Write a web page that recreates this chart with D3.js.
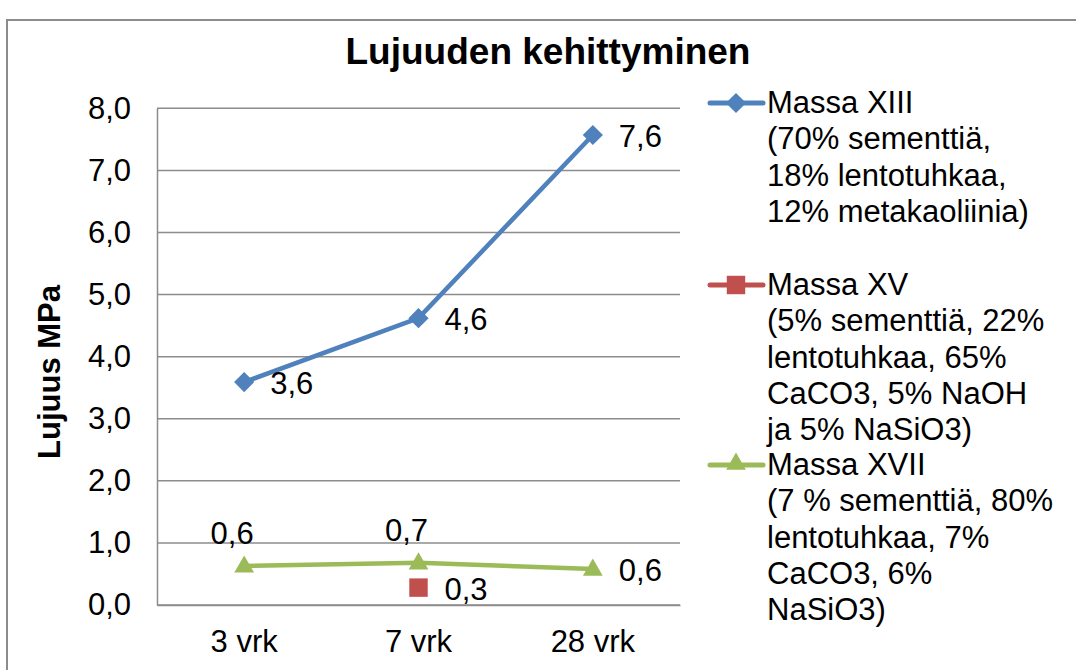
<!DOCTYPE html>
<html>
<head>
<meta charset="utf-8">
<script src="https://cdn.jsdelivr.net/npm/d3@7"></script>
<style>
  body { margin: 0; background: #fff; }
  svg { display: block; font-family: "Liberation Sans", Arial, sans-serif; }
</style>
</head>
<body>
<svg id="chart" width="1076" height="670"></svg>
<script>
// data
const categories = ["3 vrk", "7 vrk", "28 vrk"];
const massaXIII = [3.59, 4.62, 7.57];
const massaXV = [null, 0.28, null];
const massaXVII = [0.63, 0.68, 0.58];
const yTicks = [0, 1, 2, 3, 4, 5, 6, 7, 8];

const legendLines = [
    ["Massa XIII", "(70% sementtiä,", "18% lentotuhkaa,", "12% metakaoliinia)"],
    ["Massa XV", "(5% sementtiä, 22%", "lentotuhkaa, 65%", "CaCO3, 5% NaOH", "ja 5% NaSiO3)"],
    ["Massa XVII", "(7 % sementtiä, 80%", "lentotuhkaa, 7%", "CaCO3, 6%", "NaSiO3)"]
];

const series = [
    { values: massaXIII, color: "#4F81BD", symbol: "diamond", labelPos: ["right", "right", "right"] },
    { values: massaXV, color: "#C0504D", symbol: "square", labelPos: [null, "right", null] },
    { values: massaXVII, color: "#9BBB59", symbol: "triangle", labelPos: ["top", "top", "right"] }
];

const svg = d3.select("#chart");
const fontSize = 31;

// outer chart border
svg.append("rect")
    .attr("x", 7).attr("y", 20)
    .attr("width", 1200).attr("height", 800)
    .attr("fill", "none")
    .attr("stroke", "#8c8c8c")
    .attr("stroke-width", 2);

const x = d3.scaleBand().domain(categories).range([157, 680]);
const y = d3.scaleLinear().domain([0, 8]).range([605, 108.3]);
const cx = d => x(d) + x.bandwidth() / 2;

// title
svg.append("text")
    .attr("x", 548).attr("y", 64)
    .attr("text-anchor", "middle")
    .attr("font-size", 37)
    .attr("font-weight", "bold")
    .text("Lujuuden kehittyminen");

// gridlines
svg.append("g")
    .selectAll("line")
    .data(yTicks)
    .enter().append("line")
    .attr("x1", 157).attr("x2", 680)
    .attr("y1", d => y(d)).attr("y2", d => y(d))
    .attr("stroke", "#8c8c8c")
    .attr("stroke-width", 1.5);

// y axis
const yAxis = d3.axisLeft(y)
    .tickValues(yTicks)
    .tickSize(0)
    .tickPadding(26)
    .tickFormat(d => d3.format(".1f")(d).replace(".", ","));

const gy = svg.append("g")
    .attr("transform", "translate(157,0)")
    .call(yAxis);
gy.select(".domain").attr("stroke", "#8c8c8c").attr("stroke-width", 1.5);
gy.selectAll("text")
    .attr("font-size", fontSize)
    .attr("font-family", "Liberation Sans, Arial, sans-serif")
    .attr("fill", "#000");

// x axis
const xAxis = d3.axisBottom(x).tickSize(0).tickPadding(25);
const gx = svg.append("g")
    .attr("transform", "translate(0,605)")
    .call(xAxis);
gx.select(".domain").attr("stroke", "#8c8c8c").attr("stroke-width", 1.5);
gx.selectAll("text")
    .attr("font-size", fontSize)
    .attr("font-family", "Liberation Sans, Arial, sans-serif")
    .attr("fill", "#000");

// y axis title
svg.append("text")
    .attr("transform", "translate(60,372) rotate(-90)")
    .attr("text-anchor", "middle")
    .attr("font-size", 31)
    .attr("font-weight", "bold")
    .text("Lujuus MPa");

function symbolPath(name) {
    if (name === "diamond") return d3.symbol().type(d3.symbolDiamond2).size(260)();
    if (name === "square") return d3.symbol().type(d3.symbolSquare).size(340)();
    return d3.symbol().type(d3.symbolTriangle2).size(280)();
}

// lines, markers, labels
const fmt = v => d3.format(".1f")(v).replace(".", ",");

series.forEach(s => {
    const pts = categories.map((c, i) => ({ c: c, v: s.values[i], pos: s.labelPos[i] }))
        .filter(p => p.v !== null);

    const line = d3.line()
        .x(p => cx(p.c))
        .y(p => y(p.v));

    if (pts.length > 1) {
        svg.append("path")
            .datum(pts)
            .attr("d", line)
            .attr("fill", "none")
            .attr("stroke", s.color)
            .attr("stroke-width", 4.5)
            .attr("stroke-linejoin", "round")
            .attr("stroke-linecap", "round");
    }

    svg.append("g")
        .selectAll("path")
        .data(pts)
        .enter().append("path")
        .attr("d", symbolPath(s.symbol))
        .attr("transform", p => `translate(${cx(p.c)},${y(p.v) + (s.symbol === "triangle" ? 1 : 0)})`)
        .attr("fill", s.color);

    svg.append("g")
        .selectAll("text")
        .data(pts)
        .enter().append("text")
        .attr("x", p => p.pos === "top" ? cx(p.c) - 12 : cx(p.c) + 26)
        .attr("y", p => p.pos === "top" ? y(p.v) - 22 : y(p.v) + 12)
        .attr("text-anchor", p => p.pos === "top" ? "middle" : "start")
        .attr("font-size", fontSize)
        .text(p => fmt(p.v));
});

// legend
const legendTop = [103, 285, 465];
const lineGap = 36.3;

legendLines.forEach((lines, i) => {
    const s = series[i];
    const g = svg.append("g");
    g.append("line")
        .attr("x1", 710).attr("x2", 763)
        .attr("y1", legendTop[i]).attr("y2", legendTop[i])
        .attr("stroke", s.color)
        .attr("stroke-width", 5)
        .attr("stroke-linecap", "round");
    g.append("path")
        .attr("d", symbolPath(s.symbol))
        .attr("transform", `translate(736,${legendTop[i] + (s.symbol === "triangle" ? -1 : 0)})`)
        .attr("fill", s.color);
    g.selectAll("text")
        .data(lines)
        .enter().append("text")
        .attr("x", 767)
        .attr("y", (d, j) => legendTop[i] + 10 + j * lineGap)
        .attr("font-size", fontSize)
        .text(d => d);
});
</script>
</body>
</html>
